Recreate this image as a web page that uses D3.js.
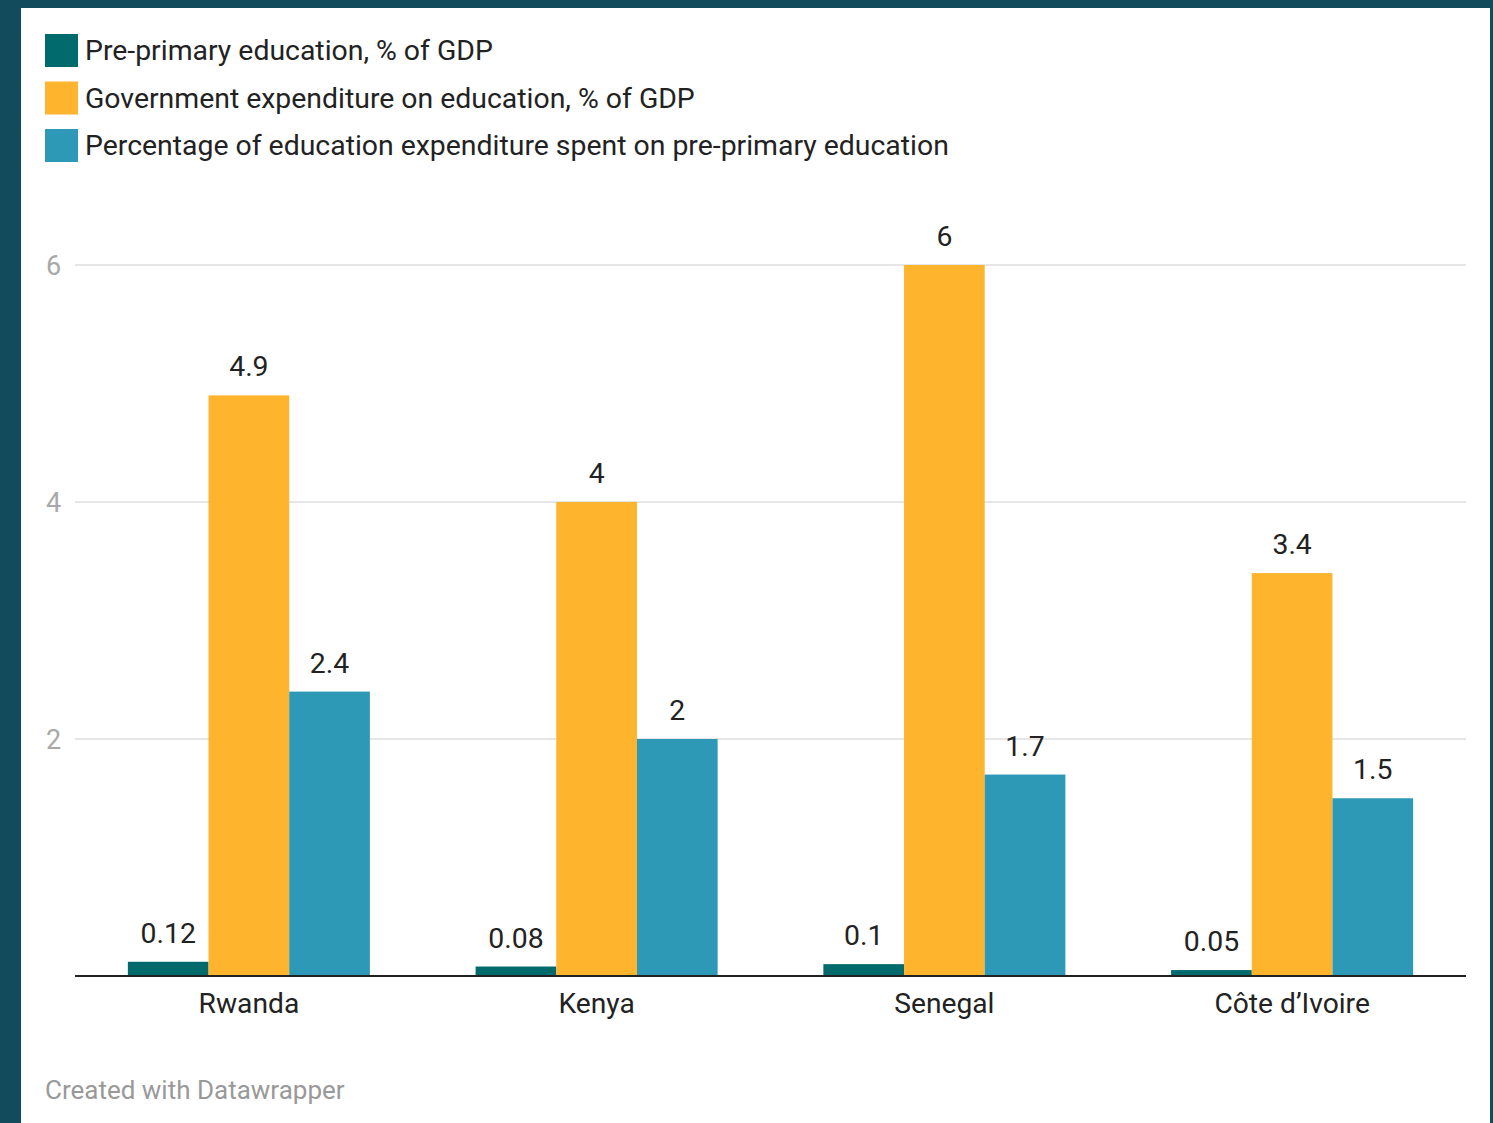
<!DOCTYPE html>
<html>
<head>
<meta charset="utf-8">
<script src="https://cdn.jsdelivr.net/npm/d3@7"></script>
<style>
  html, body { margin: 0; padding: 0; background: #124b5b; }
  body { width: 1493px; height: 1123px; overflow: hidden; font-family: Roboto, "Noto Sans", sans-serif; }
  #panel { position: absolute; left: 21px; top: 8px; width: 1469px; height: 1115px; background: #fff; }
  svg { position: absolute; left: 0; top: 0; }
</style>
</head>
<body>
<div id="panel"></div>
<svg id="chart" width="1493" height="1123"></svg>
<script>
// Categories, series and values
const countries = ["Rwanda", "Kenya", "Senegal", "Côte d\u2019Ivoire"];
const seriesNames = [
  "Pre-primary education, % of GDP",
  "Government expenditure on education, % of GDP",
  "Percentage of education expenditure spent on pre-primary education"
];
const prePrimaryGdp = [0.12, 0.08, 0.1, 0.05];
const govEducationGdp = [4.9, 4, 6, 3.4];
const prePrimaryShare = [2.4, 2, 1.7, 1.5];
const yTicks = [2, 4, 6];
const seriesColors = ["#006a6d", "#ffb42d", "#2e99b6"];

const seriesValues = [prePrimaryGdp, govEducationGdp, prePrimaryShare];
const rows = countries.map((c, i) => ({
  country: c,
  values: seriesValues.map((arr, s) => ({ series: s, value: arr[i] }))
}));

const svg = d3.select("#chart");

// Legend
const legend = svg.append("g");
seriesNames.forEach((name, i) => {
  const g = legend.append("g").attr("transform", `translate(45, ${34 + i * 47.5})`);
  g.append("rect").attr("width", 33).attr("height", 33).attr("fill", seriesColors[i]);
  g.append("text").attr("x", 40).attr("y", 26)
    .attr("font-size", 28.4).attr("fill", "#222").text(name);
});

// Scales
const x0 = d3.scaleBand().domain(countries).range([75, 1466])
  .paddingInner(0.304).paddingOuter(0.152);
const x1 = d3.scaleBand().domain([0, 1, 2]).range([0, x0.bandwidth()]).padding(0);
const y = d3.scaleLinear().domain([0, 6]).range([976, 265]);

// Gridlines and y tick labels
const grid = svg.append("g");
grid.selectAll("line").data(yTicks).join("line")
  .attr("x1", 75).attr("x2", 1466)
  .attr("y1", d => y(d)).attr("y2", d => y(d))
  .attr("stroke", "#e6e6e6").attr("stroke-width", 2);
grid.selectAll("text").data(yTicks).join("text")
  .attr("x", 46).attr("y", d => y(d) + 10)
  .attr("font-size", 27).attr("fill", "#a8a8a8").text(d => d);

// Bars
const groups = svg.append("g").selectAll("g").data(rows).join("g")
  .attr("transform", d => `translate(${x0(d.country)},0)`);
groups.selectAll("rect").data(d => d.values).join("rect")
  .attr("x", d => x1(d.series))
  .attr("y", d => y(d.value))
  .attr("width", x1.bandwidth())
  .attr("height", d => y(0) - y(d.value))
  .attr("fill", d => seriesColors[d.series]);

// Value labels
groups.selectAll("text").data(d => d.values).join("text")
  .attr("x", d => x1(d.series) + x1.bandwidth() / 2)
  .attr("y", d => y(d.value) - 19)
  .attr("text-anchor", "middle")
  .attr("font-size", 28.4).attr("fill", "#222")
  .text(d => d.value);

// Baseline
svg.append("line").attr("x1", 75).attr("x2", 1466)
  .attr("y1", y(0)).attr("y2", y(0))
  .attr("stroke", "#222").attr("stroke-width", 2);

// Category axis
const xAxis = svg.append("g").attr("transform", `translate(0, ${y(0)})`)
  .call(d3.axisBottom(x0).tickSize(0).tickPadding(0));
xAxis.select(".domain").remove();
xAxis.selectAll("text").attr("dy", null).attr("y", 37)
  .attr("font-size", 28.2).attr("font-family", "Roboto, sans-serif").attr("fill", "#222");

// Footer
svg.append("text").attr("x", 45).attr("y", 1099)
  .attr("font-size", 26).attr("fill", "#999").text("Created with Datawrapper");
</script>
</body>
</html>
